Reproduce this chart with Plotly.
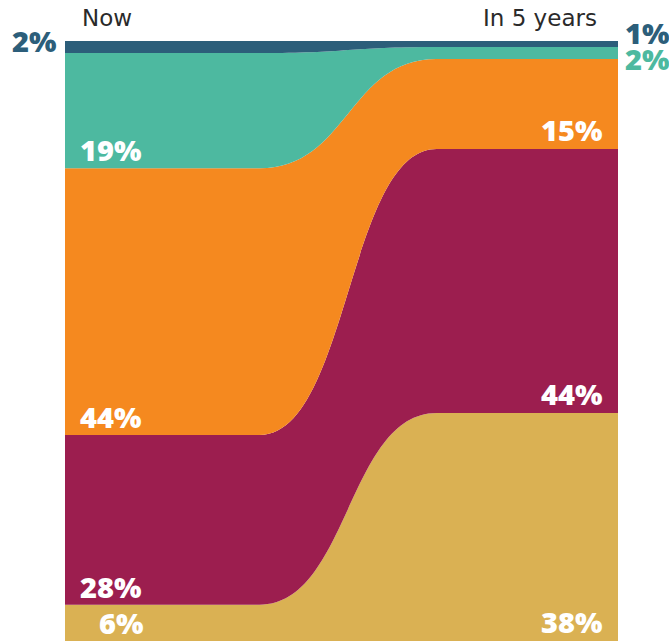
import plotly.graph_objects as go

# ---- data ----
periods = ["Now", "In 5 years"]
series_names = ["Gold", "Crimson", "Orange", "Teal", "Blue"]  # bottom -> top
now_values = [6, 28, 44, 19, 2]
future_values = [38, 44, 15, 2, 1]
now_labels = ["6%", "28%", "44%", "19%", "2%"]
future_labels = ["38%", "44%", "15%", "2%", "1%"]

colors = ["#DAB153", "#9C1E4F", "#F5891F", "#4DB9A0", "#2C5E7A"]

# horizontal layout of the flow (axis units): plateau "Now" | connector | plateau "In 5 years"
X0, X1 = 0.352, 0.672
XM = (X0 + X1) / 2


def cum_bounds(vals):
    tot = sum(vals)
    out, s = [], 0.0
    for v in vals:
        lo = s / tot * 100
        s += v
        out.append((lo, s / tot * 100))
    return out


now_b = cum_bounds(now_values)
fut_b = cum_bounds(future_values)

fig = go.Figure()
# invisible anchor trace so the axes carry the data range
fig.add_trace(go.Scatter(x=[0, 1], y=[0, 100], mode="markers",
                         marker=dict(opacity=0), hoverinfo="skip", showlegend=False))

shapes = []
for (b0, t0), (b1, t1), c in zip(now_b, fut_b, colors):
    path = (
        f"M 0,{b0} L {X0},{b0} C {XM},{b0} {XM},{b1} {X1},{b1} L 1,{b1} "
        f"L 1,{t1} L {X1},{t1} C {XM},{t1} {XM},{t0} {X0},{t0} L 0,{t0} Z"
    )
    shapes.append(dict(type="path", path=path, xref="x", yref="y",
                       fillcolor=c, line=dict(width=0), layer="above"))

lab_font = dict(family="Open Sans", size=29, color="white", weight=800)
ann = []
now_xshift = [32, 13, 13, 13]
for i in range(4):
    ann.append(dict(x=0, y=now_b[i][0], text=now_labels[i], showarrow=False,
                    xanchor="left", yanchor="bottom", xshift=now_xshift[i], yshift=-3,
                    font=lab_font))
for i in range(3):
    ann.append(dict(x=1, y=fut_b[i][0], text=future_labels[i], showarrow=False,
                    xanchor="right", yanchor="bottom", xshift=-14, yshift=-2,
                    font=lab_font))
# outside labels
ann.append(dict(x=0, y=100, text=now_labels[4], showarrow=False, xanchor="right",
                yanchor="middle", xshift=-6, yshift=1,
                font=dict(family="Open Sans", size=29, color=colors[4], weight=800)))
ann.append(dict(x=1, y=100, text=future_labels[4], showarrow=False, xanchor="left",
                yanchor="middle", xshift=5, yshift=9,
                font=dict(family="Open Sans", size=29, color=colors[4], weight=800)))
ann.append(dict(x=1, y=100, text=future_labels[3], showarrow=False, xanchor="left",
                yanchor="middle", xshift=5, yshift=-17,
                font=dict(family="Open Sans", size=29, color=colors[3], weight=800)))
# period headers
hdr_font = dict(family="DejaVu Sans", size=23, color="#2a2a2a")
ann.append(dict(x=0, y=100, text=periods[0], showarrow=False, xanchor="left",
                yanchor="bottom", xshift=15, yshift=8, font=hdr_font))
ann.append(dict(x=1, y=100, text=periods[1], showarrow=False, xanchor="right",
                yanchor="bottom", xshift=-19, yshift=8, font=hdr_font))

fig.update_layout(
    width=669, height=641,
    margin=dict(l=65, r=51, t=41, b=0),
    paper_bgcolor="white", plot_bgcolor="white",
    showlegend=False,
    annotations=ann,
    shapes=shapes,
    xaxis=dict(range=[0, 1], visible=False, fixedrange=True),
    yaxis=dict(range=[0, 100], visible=False, fixedrange=True),
)

fig.write_html("out.html", config={"displayModeBar": False})
